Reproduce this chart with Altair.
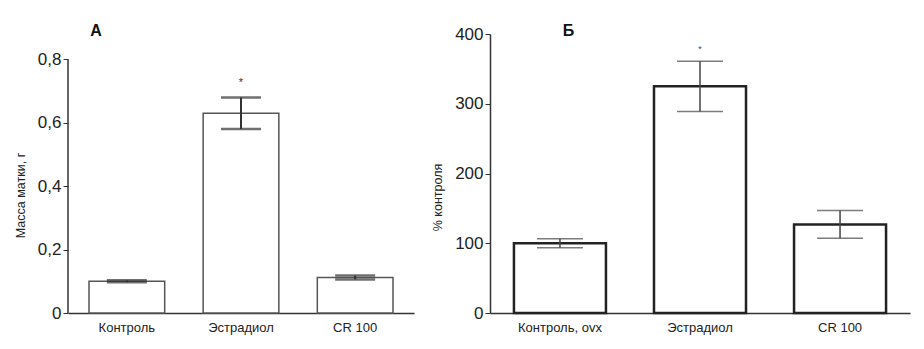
import altair as alt
import pandas as pd

cats_a = ["Контроль", "Эстрадиол", "CR 100"]
mean_a = [0.10, 0.63, 0.112]
err_a = [0.003, 0.05, 0.006]
star_a = ["", "*", ""]

cats_b = ["Контроль, ovx", "Эстрадиол", "CR 100"]
mean_b = [100, 325, 127]
err_b = [6.5, 36, 20]
star_b = ["", "*", ""]

FONT = "Liberation Sans, Arial, sans-serif"

da = pd.DataFrame({"cat": cats_a, "m": mean_a, "lo": [m - e for m, e in zip(mean_a, err_a)],
                   "hi": [m + e for m, e in zip(mean_a, err_a)], "star": star_a,
                   "sy": [m + e + 0.045 for m, e in zip(mean_a, err_a)]})
db = pd.DataFrame({"cat": cats_b, "m": mean_b, "lo": [m - e for m, e in zip(mean_b, err_b)],
                   "hi": [m + e for m, e in zip(mean_b, err_b)], "star": star_b,
                   "sy": [m + e + 18 for m, e in zip(mean_b, err_b)]})
axis_a = pd.DataFrame({"y0": [0], "y1": [0.8]})

xa = alt.X("cat:N", sort=cats_a, title=None,
           scale=alt.Scale(paddingInner=0.337, paddingOuter=0.184),
           axis=alt.Axis(labelAngle=0, ticks=False, labelFontSize=13, labelPadding=8,
                         domainColor="#333", domainWidth=1.5, labelColor="#222", labelFont=FONT))
ya_scale = alt.Scale(domain=[0, 0.88], nice=False)
ya = alt.Y("m:Q", scale=ya_scale, title="Масса матки, г",
           axis=alt.Axis(values=[0, 0.2, 0.4, 0.6, 0.8], grid=False, domain=False,
                         labelExpr="datum.value == 0 ? '0' : replace(format(datum.value, '.1f'), '.', ',')",
                         labelFontSize=17, labelColor="#222", labelFont=FONT, tickColor="#333",
                         tickSize=5, titleFontSize=12.5, titleFontWeight="normal", titleColor="#222",
                         titleFont=FONT, titleY=161, titlePadding=10))

bars_a = alt.Chart(da).mark_bar(fill="white", stroke="#555", strokeWidth=1.5).encode(x=xa, y=ya)
rule_a = alt.Chart(da).mark_rule(color="#333", strokeWidth=2).encode(
    x=alt.X("cat:N", sort=cats_a), y=alt.Y("lo:Q", scale=ya_scale), y2="hi:Q")
caps_lo_a = alt.Chart(da).mark_tick(color="#333", thickness=2.5, size=40).encode(
    x=alt.X("cat:N", sort=cats_a), y=alt.Y("lo:Q", scale=ya_scale))
caps_hi_a = alt.Chart(da).mark_tick(color="#333", thickness=2.5, size=40).encode(
    x=alt.X("cat:N", sort=cats_a), y=alt.Y("hi:Q", scale=ya_scale))
star_mark_a = alt.Chart(da).mark_text(fontSize=11, color="#333", font=FONT).encode(
    x=alt.X("cat:N", sort=cats_a), y=alt.Y("sy:Q", scale=ya_scale), text="star:N")
yline_a = alt.Chart(axis_a).mark_rule(color="#333", strokeWidth=1.5).encode(
    x=alt.value(0), y=alt.Y("y0:Q", scale=ya_scale), y2="y1:Q")

panel_a = alt.layer(bars_a, rule_a, caps_lo_a, caps_hi_a, star_mark_a, yline_a).properties(
    width=346, height=279,
    title=alt.TitleParams("А", anchor="start", dx=76, dy=9, fontSize=16, font=FONT,
                          fontWeight="bold", color="#111"))

xb = alt.X("cat:N", sort=cats_b, title=None,
           scale=alt.Scale(paddingInner=0.343, paddingOuter=0.171),
           axis=alt.Axis(labelAngle=0, ticks=False, labelFontSize=13, labelPadding=8,
                         domainColor="#333", domainWidth=1.5, labelColor="#222", labelFont=FONT))
yb_scale = alt.Scale(domain=[0, 400], nice=False)
yb = alt.Y("m:Q", scale=yb_scale, title="% контроля",
           axis=alt.Axis(values=[0, 100, 200, 300, 400], grid=False, domainColor="#333",
                         domainWidth=1.5, labelFontSize=17, labelColor="#222", labelFont=FONT,
                         tickColor="#333", tickSize=5, titleFontSize=12.5, titleFontWeight="normal",
                         titleColor="#222", titleFont=FONT, titleY=163, titlePadding=10))

bars_b = alt.Chart(db).mark_bar(fill="white", stroke="#222", strokeWidth=2.5).encode(x=xb, y=yb)
rule_b = alt.Chart(db).mark_rule(color="#444", strokeWidth=1.5).encode(
    x=alt.X("cat:N", sort=cats_b), y=alt.Y("lo:Q", scale=yb_scale), y2="hi:Q")
caps_lo_b = alt.Chart(db).mark_tick(color="#444", thickness=1.5, size=46).encode(
    x=alt.X("cat:N", sort=cats_b), y=alt.Y("lo:Q", scale=yb_scale))
caps_hi_b = alt.Chart(db).mark_tick(color="#444", thickness=1.5, size=46).encode(
    x=alt.X("cat:N", sort=cats_b), y=alt.Y("hi:Q", scale=yb_scale))
star_mark_b = alt.Chart(db).mark_text(fontSize=9, color="#444", font=FONT).encode(
    x=alt.X("cat:N", sort=cats_b), y=alt.Y("sy:Q", scale=yb_scale), text="star:N")

panel_b = alt.layer(bars_b, rule_b, caps_lo_b, caps_hi_b, star_mark_b).properties(
    width=420, height=279,
    title=alt.TitleParams("Б", anchor="start", dx=131, dy=18, fontSize=16, font=FONT,
                          fontWeight="bold", color="#111"))

chart = alt.hconcat(panel_a, panel_b, spacing=17).properties(
    padding={"left": 14, "top": 23, "right": 10, "bottom": 5},
    background="white"
).configure_view(strokeWidth=0, stroke="transparent")

chart.save("out.html", embed_options={"renderer": "svg", "actions": False})
